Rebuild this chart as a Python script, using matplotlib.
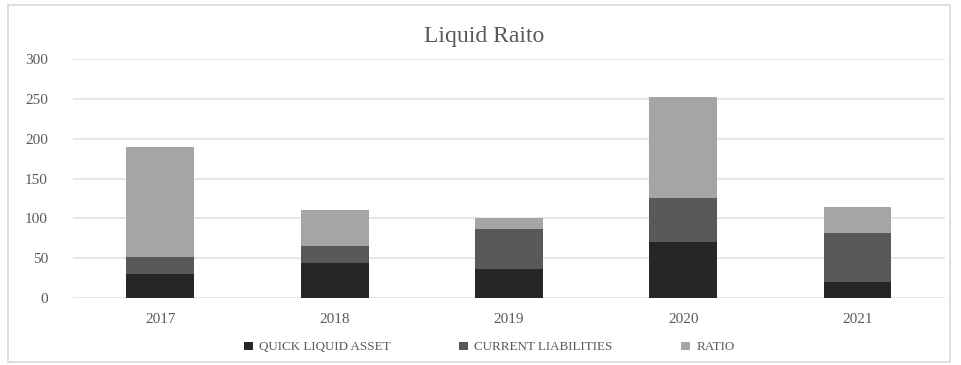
"""Stacked bar chart of liquid ratio components by year."""

import matplotlib.pyplot as plt
import numpy as np
from matplotlib.patches import Rectangle

years = ['2017', '2018', '2019', '2020', '2021']
quick_liquid_asset = [29.5, 44.5, 37, 70.5, 19.5]
current_liabilities = [22, 21, 50, 55, 62]
ratio = [138, 44.5, 14, 127, 33]
series_names = ['QUICK LIQUID ASSET', 'CURRENT LIABILITIES', 'RATIO']
colors = ['#262626', '#595959', '#a5a5a5']

plt.rcParams['font.family'] = ['Liberation Serif', 'DejaVu Serif']

fig = plt.figure(figsize=(9.61, 3.65), dpi=100)
ax = fig.add_axes([0.076, 0.1836, 0.907, 0.6544])

x = np.arange(len(years))
bottom = np.zeros(len(years))
for name, vals, c in zip(series_names, [quick_liquid_asset, current_liabilities, ratio], colors):
    ax.bar(x, vals, width=0.39, bottom=bottom, color=c, label=name, zorder=3)
    bottom += np.array(vals)

ax.set_xlim(-0.5, len(years) - 0.5)
ax.set_ylim(0, 300)
ax.set_yticks(range(0, 301, 50))
ax.set_xticks(x)
ax.set_xticklabels(years)
ax.yaxis.grid(True, color='#e3e3e3', linewidth=1.2, zorder=0)
ax.tick_params(axis='both', length=0, labelsize=11, labelcolor='#595959')
ax.tick_params(axis='y', pad=18)
ax.tick_params(axis='x', pad=11)
for s in ax.spines.values():
    s.set_visible(False)

fig.text(0.504, 0.9, 'Liquid Raito', ha='center', va='center', fontsize=17, color='#595959')

fig.legend(loc='center', bbox_to_anchor=(0.509, 0.048), ncol=3, frameon=False,
           fontsize=9.4, handlelength=0.7, handleheight=0.5, handletextpad=0.5,
           columnspacing=5.2, labelcolor='#595959')

# outer chart frame
fig.patches.append(Rectangle((0.008, 0.008), 0.981, 0.978, transform=fig.transFigure,
                             fill=False, edgecolor='#d9d9d9', linewidth=1.2))

plt.savefig('out.png', dpi=100)
plt.close()
